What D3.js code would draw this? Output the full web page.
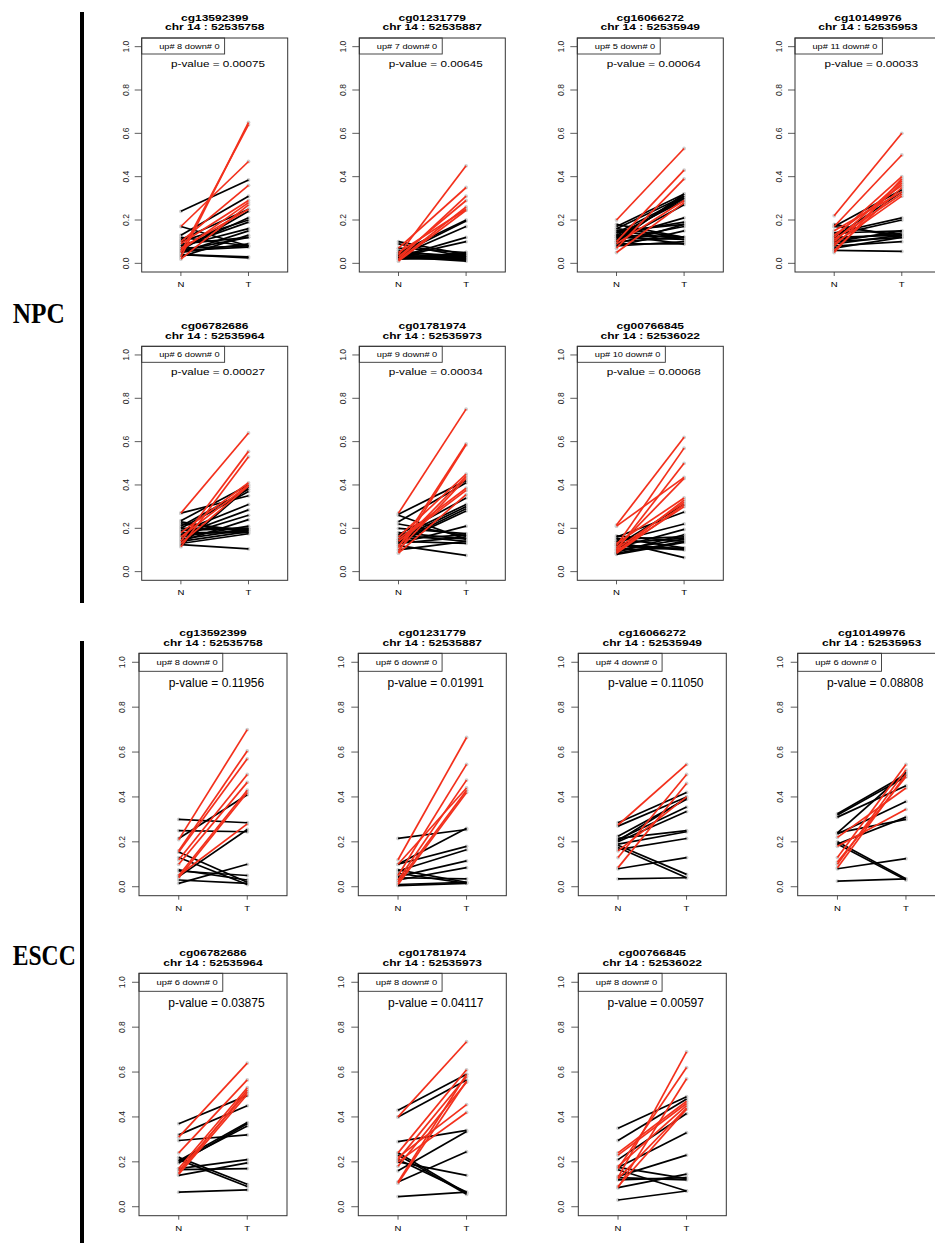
<!DOCTYPE html>
<html>
<head>
<meta charset="utf-8">
<script src="https://cdn.jsdelivr.net/npm/d3@7"></script>
<style>
  body { margin: 0; background: #fff; }
  svg { display: block; }
</style>
</head>
<body>
<svg id="chart" width="935" height="1243"></svg>
<script>
// Probe ids and chr 14 positions (same order for both cohorts)
const probes = ["cg13592399", "cg01231779", "cg16066272", "cg10149976", "cg06782686", "cg01781974", "cg00766845"];
const positions = ["52535758", "52535887", "52535949", "52535953", "52535964", "52535973", "52536022"];
const groups = ["N", "T"];
const yTicks = [0, 0.2, 0.4, 0.6, 0.8, 1.0];

const npcUpCounts = [8, 7, 5, 11, 6, 9, 10];
const npcPValues = ["0.00075", "0.00645", "0.00064", "0.00033", "0.00027", "0.00034", "0.00068"];
const esccUpCounts = [8, 6, 4, 6, 6, 8, 8];
const esccPValues = ["0.11956", "0.01991", "0.11050", "0.08808", "0.03875", "0.04117", "0.00597"];

// paired beta values [N, T]; "Red" = samples called up
const npc1Red = [[0.17, 0.47], [0.03, 0.65], [0.05, 0.64], [0.10, 0.36], [0.09, 0.29], [0.06, 0.28], [0.02, 0.27], [0.07, 0.25]];
const npc1Black = [[0.24, 0.385], [0.17, 0.08], [0.13, 0.31], [0.12, 0.08], [0.11, 0.25], [0.10, 0.20], [0.09, 0.12], [0.08, 0.16],
  [0.07, 0.21], [0.07, 0.08], [0.06, 0.12], [0.06, 0.24], [0.05, 0.15], [0.05, 0.09], [0.04, 0.03], [0.04, 0.025], [0.06, 0.075],
  [0.03, 0.13], [0.08, 0.19]];

const npc2Red = [[0.04, 0.45], [0.07, 0.35], [0.02, 0.31], [0.03, 0.29], [0.015, 0.26], [0.05, 0.25], [0.01, 0.245]];
const npc2Black = [[0.10, 0.04], [0.09, 0.03], [0.07, 0.05], [0.06, 0.02], [0.05, 0.20], [0.04, 0.195], [0.035, 0.17], [0.03, 0.12],
  [0.03, 0.10], [0.025, 0.03], [0.02, 0.04], [0.04, 0.015], [0.03, 0.02], [0.05, 0.035], [0.02, 0.05], [0.03, 0.01],
  [0.045, 0.025], [0.025, 0.045], [0.035, 0.03], [0.02, 0.02]];

const npc3Red = [[0.20, 0.53], [0.10, 0.43], [0.07, 0.39], [0.05, 0.28], [0.09, 0.29]];
const npc3Black = [[0.18, 0.12], [0.17, 0.32], [0.16, 0.31], [0.15, 0.11], [0.14, 0.30], [0.14, 0.19], [0.13, 0.12], [0.13, 0.29],
  [0.12, 0.21], [0.12, 0.11], [0.11, 0.31], [0.11, 0.17], [0.10, 0.27], [0.10, 0.12], [0.09, 0.18], [0.09, 0.09], [0.08, 0.15],
  [0.08, 0.10], [0.12, 0.30], [0.15, 0.18], [0.16, 0.12], [0.10, 0.32], [0.13, 0.09]];

const npc4Red = [[0.22, 0.60], [0.17, 0.50], [0.12, 0.40], [0.05, 0.39], [0.10, 0.38], [0.08, 0.37], [0.13, 0.36], [0.06, 0.35],
  [0.15, 0.33], [0.11, 0.32], [0.09, 0.31]];
const npc4Black = [[0.18, 0.12], [0.17, 0.34], [0.17, 0.13], [0.14, 0.15], [0.14, 0.21], [0.13, 0.20], [0.12, 0.33], [0.11, 0.14],
  [0.10, 0.12], [0.09, 0.13], [0.08, 0.10], [0.07, 0.12], [0.06, 0.055], [0.10, 0.15], [0.12, 0.13]];

const npc5Red = [[0.27, 0.64], [0.14, 0.555], [0.115, 0.53], [0.18, 0.41], [0.16, 0.40], [0.13, 0.395]];
const npc5Black = [[0.27, 0.35], [0.235, 0.40], [0.22, 0.19], [0.21, 0.38], [0.20, 0.37], [0.19, 0.20], [0.185, 0.31], [0.18, 0.18],
  [0.17, 0.285], [0.165, 0.26], [0.16, 0.21], [0.15, 0.195], [0.14, 0.24], [0.14, 0.185], [0.13, 0.175], [0.12, 0.39],
  [0.125, 0.105], [0.20, 0.20], [0.17, 0.19], [0.23, 0.18]];

const npc6Red = [[0.27, 0.75], [0.11, 0.59], [0.09, 0.585], [0.16, 0.45], [0.12, 0.44], [0.10, 0.43], [0.15, 0.385], [0.14, 0.375],
  [0.085, 0.355]];
const npc6Black = [[0.265, 0.42], [0.26, 0.15], [0.23, 0.41], [0.22, 0.165], [0.20, 0.175], [0.17, 0.34], [0.17, 0.14], [0.16, 0.31],
  [0.15, 0.30], [0.15, 0.17], [0.14, 0.29], [0.14, 0.13], [0.135, 0.28], [0.13, 0.16], [0.13, 0.21], [0.12, 0.075], [0.10, 0.14],
  [0.18, 0.15]];

const npc7Red = [[0.215, 0.62], [0.12, 0.57], [0.10, 0.50], [0.21, 0.435], [0.11, 0.43], [0.13, 0.34], [0.09, 0.33], [0.105, 0.32],
  [0.085, 0.31], [0.095, 0.30]];
const npc7Black = [[0.165, 0.14], [0.16, 0.275], [0.155, 0.11], [0.15, 0.16], [0.14, 0.22], [0.13, 0.155], [0.125, 0.105], [0.12, 0.31],
  [0.11, 0.195], [0.10, 0.15], [0.09, 0.17], [0.08, 0.135], [0.14, 0.065], [0.12, 0.10], [0.10, 0.11], [0.085, 0.14]];

const escc1Red = [[0.21, 0.70], [0.16, 0.605], [0.155, 0.57], [0.12, 0.50], [0.10, 0.465], [0.05, 0.43], [0.04, 0.42], [0.05, 0.28]];
const escc1Black = [[0.30, 0.285], [0.25, 0.245], [0.215, 0.41], [0.155, 0.02], [0.13, 0.01], [0.07, 0.05], [0.045, 0.255],
  [0.03, 0.015], [0.015, 0.10], [0.075, 0.03]];

const escc2Red = [[0.12, 0.665], [0.05, 0.545], [0.03, 0.475], [0.10, 0.44], [0.02, 0.43], [0.01, 0.42]];
const escc2Black = [[0.215, 0.255], [0.10, 0.26], [0.10, 0.18], [0.07, 0.165], [0.045, 0.115], [0.03, 0.085], [0.075, 0.02],
  [0.06, 0.015], [0.04, 0.035], [0.01, 0.02], [0.005, 0.015]];

const escc3Red = [[0.275, 0.545], [0.13, 0.50], [0.085, 0.46], [0.16, 0.40]];
const escc3Black = [[0.285, 0.42], [0.27, 0.40], [0.225, 0.39], [0.21, 0.355], [0.20, 0.335], [0.215, 0.25], [0.19, 0.245],
  [0.165, 0.215], [0.185, 0.055], [0.175, 0.04], [0.08, 0.13], [0.035, 0.04], [0.205, 0.395]];

const escc4Red = [[0.13, 0.545], [0.10, 0.52], [0.085, 0.50], [0.11, 0.49], [0.22, 0.44], [0.18, 0.345]];
const escc4Black = [[0.325, 0.50], [0.32, 0.49], [0.31, 0.45], [0.24, 0.51], [0.235, 0.38], [0.24, 0.30], [0.19, 0.31], [0.20, 0.035],
  [0.19, 0.03], [0.08, 0.125], [0.025, 0.035]];

const escc5Red = [[0.31, 0.64], [0.24, 0.565], [0.17, 0.53], [0.15, 0.52], [0.16, 0.51], [0.145, 0.50]];
const escc5Black = [[0.37, 0.495], [0.32, 0.45], [0.295, 0.32], [0.22, 0.10], [0.21, 0.09], [0.205, 0.375], [0.20, 0.36], [0.195, 0.37],
  [0.17, 0.21], [0.165, 0.17], [0.14, 0.195], [0.065, 0.075]];

const escc6Red = [[0.40, 0.735], [0.24, 0.61], [0.11, 0.59], [0.21, 0.58], [0.105, 0.56], [0.18, 0.555], [0.22, 0.455], [0.20, 0.42]];
const escc6Black = [[0.43, 0.59], [0.40, 0.565], [0.29, 0.34], [0.24, 0.06], [0.21, 0.065], [0.20, 0.14], [0.16, 0.335], [0.11, 0.245],
  [0.045, 0.065], [0.23, 0.055]];

const escc7Red = [[0.13, 0.69], [0.17, 0.62], [0.085, 0.57], [0.24, 0.47], [0.23, 0.46], [0.18, 0.45], [0.125, 0.44], [0.09, 0.435]];
const escc7Black = [[0.35, 0.49], [0.295, 0.48], [0.21, 0.415], [0.175, 0.33], [0.175, 0.125], [0.135, 0.23], [0.13, 0.12],
  [0.085, 0.145], [0.165, 0.07], [0.03, 0.07], [0.12, 0.13]];

const npcRed = [npc1Red, npc2Red, npc3Red, npc4Red, npc5Red, npc6Red, npc7Red];
const npcBlack = [npc1Black, npc2Black, npc3Black, npc4Black, npc5Black, npc6Black, npc7Black];
const esccRed = [escc1Red, escc2Red, escc3Red, escc4Red, escc5Red, escc6Red, escc7Red];
const esccBlack = [escc1Black, escc2Black, escc3Black, escc4Black, escc5Black, escc6Black, escc7Black];

const RED = "#f3301c";
const svg = d3.select("#chart");

// text that is wider than its height suggests (the R panels were stretched sideways)
function wideText(g, x, y, sx, str) {
  return g.append("text")
    .attr("transform", `translate(${x},${y}) scale(${sx},1)`)
    .text(str);
}

function drawPanel(p) {
  const g = svg.append("g");
  const x = d3.scaleLinear().domain([0.42, 2.58]).range([p.left, p.left + p.width]);
  const y = d3.scaleLinear().domain([-0.04, 1.04]).range([p.top + p.height, p.top]);
  const bottom = p.top + p.height;

  // title
  const cx = p.left + p.width / 2;
  wideText(g, cx, p.top - 17, 1.25, p.probe)
    .attr("text-anchor", "middle").attr("font-size", 9.6).attr("font-weight", "bold");
  wideText(g, cx, p.top - 7.8, 1.25, "chr 14 : " + p.pos)
    .attr("text-anchor", "middle").attr("font-size", 9.6).attr("font-weight", "bold");

  // y axis
  yTicks.forEach(t => {
    g.append("line")
      .attr("x1", p.left).attr("x2", p.left - 7)
      .attr("y1", y(t)).attr("y2", y(t))
      .attr("stroke", "#333").attr("stroke-width", 0.8);
    g.append("text")
      .attr("transform", `translate(${p.left - p.labelGap},${y(t)}) rotate(-90)`)
      .attr("text-anchor", "middle")
      .attr("font-size", 8.5)
      .attr("fill", "#222")
      .text(d3.format(".1f")(t));
  });

  // x axis
  groups.forEach((name, i) => {
    g.append("line")
      .attr("x1", x(i + 1)).attr("x2", x(i + 1))
      .attr("y1", bottom).attr("y2", bottom + 4)
      .attr("stroke", "#333").attr("stroke-width", 0.8);
    wideText(g, x(i + 1), bottom + p.nGap, 1.2, name)
      .attr("text-anchor", "middle").attr("font-size", 8);
  });

  // endpoint dots then segments, black first, up samples on top
  const all = p.black.concat(p.red);
  all.forEach(d => {
    [0, 1].forEach(k => {
      g.append("circle")
        .attr("cx", x(k + 1)).attr("cy", y(d[k]))
        .attr("r", 1.9).attr("fill", "#cfcfcf");
    });
  });
  p.black.forEach(d => {
    g.append("line")
      .attr("x1", x(1)).attr("y1", y(d[0]))
      .attr("x2", x(2)).attr("y2", y(d[1]))
      .attr("stroke", "#000").attr("stroke-width", 1.7);
  });
  p.red.forEach(d => {
    g.append("line")
      .attr("x1", x(1)).attr("y1", y(d[0]))
      .attr("x2", x(2)).attr("y2", y(d[1]))
      .attr("stroke", RED).attr("stroke-width", 1.7);
  });

  // legend box (up/down counts)
  const legRect = g.append("rect")
    .attr("x", p.left).attr("y", p.top)
    .attr("height", p.legH)
    .attr("fill", "#fff").attr("stroke", "#333").attr("stroke-width", 0.9);
  const legText = wideText(g, p.left + 17.5, p.top + p.legH / 2 + 2.7, p.legSx, `up# ${p.up} down# 0`)
    .attr("font-size", p.legFont);
  const tw = legText.node().getComputedTextLength() * p.legSx;
  legRect.attr("width", 17.5 + tw + 5);

  // p-value
  wideText(g, x(1.55), p.top + p.pGap, p.pSx, "p-value = " + p.pval)
    .attr("text-anchor", "middle").attr("font-size", p.pFont);

  // frame
  g.append("rect")
    .attr("x", p.left).attr("y", p.top)
    .attr("width", p.width).attr("height", p.height)
    .attr("fill", "none").attr("stroke", "#333").attr("stroke-width", 1);
}

svg.attr("font-family", "'Liberation Sans', Arial, sans-serif");

// NPC block
const npcLefts = [141.7, 359.3, 577.3, 795];
const npcTops = [38, 346.3];
probes.forEach((probe, i) => {
  drawPanel({
    left: npcLefts[i % 4], top: npcTops[Math.floor(i / 4)], width: 146, height: 234,
    probe, pos: positions[i], red: npcRed[i], black: npcBlack[i],
    up: npcUpCounts[i], pval: npcPValues[i],
    labelGap: 13, nGap: 14.5,
    legH: 16, legFont: 7.5, legSx: 1.23,
    pFont: 9.6, pSx: 1.22, pGap: 28.5
  });
});

// ESCC block
const esccLefts = [139, 358.3, 578.3, 797.7];
const esccTops = [653.3, 973.3];
probes.forEach((probe, i) => {
  drawPanel({
    left: esccLefts[i % 4], top: esccTops[Math.floor(i / 4)], width: 148, height: 242.4,
    probe, pos: positions[i], red: esccRed[i], black: esccBlack[i],
    up: esccUpCounts[i], pval: esccPValues[i],
    labelGap: 14.5, nGap: 15.5,
    legH: 18, legFont: 8, legSx: 1.17,
    pFont: 12, pSx: 1, pGap: 33.5
  });
});

// cohort brackets and labels
svg.append("rect").attr("x", 80).attr("y", 12).attr("width", 4).attr("height", 591).attr("fill", "#000");
svg.append("rect").attr("x", 80).attr("y", 641).attr("width", 4).attr("height", 602).attr("fill", "#000");

svg.append("text")
  .attr("x", 12.7).attr("y", 323)
  .attr("font-family", "'Liberation Serif', 'DejaVu Serif', serif")
  .attr("font-weight", "bold").attr("font-size", 29)
  .attr("textLength", 52).attr("lengthAdjust", "spacingAndGlyphs")
  .text("NPC");
svg.append("text")
  .attr("x", 12.7).attr("y", 965)
  .attr("font-family", "'Liberation Serif', 'DejaVu Serif', serif")
  .attr("font-weight", "bold").attr("font-size", 29)
  .attr("textLength", 63).attr("lengthAdjust", "spacingAndGlyphs")
  .text("ESCC");
</script>
</body>
</html>
